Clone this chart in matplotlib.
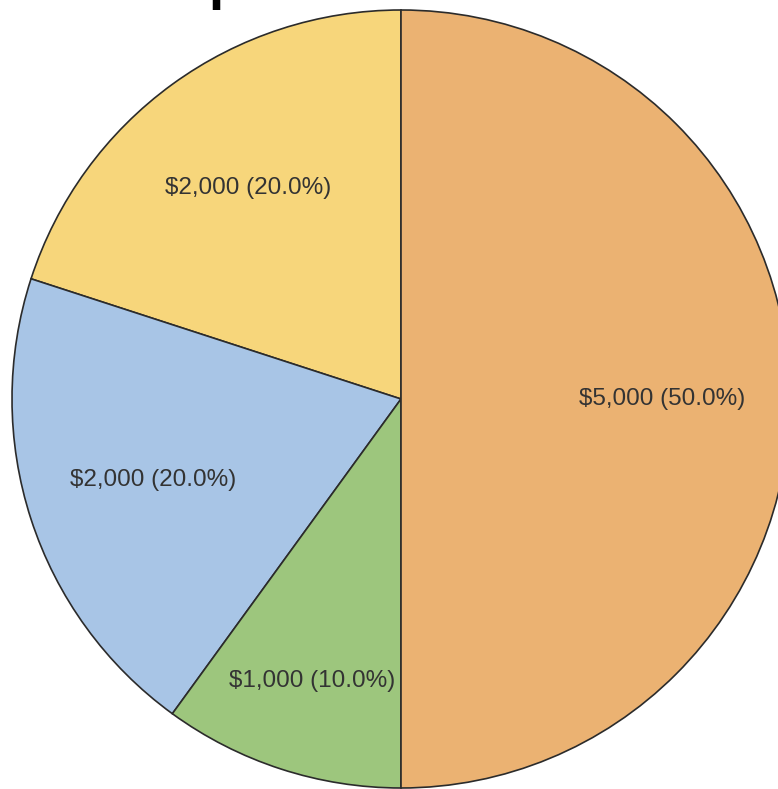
import matplotlib
matplotlib.use("Agg")
import matplotlib.pyplot as plt
import numpy as np

# data (counter-clockwise from the top)
values = [2000, 2000, 1000, 5000]
colors = ["#F7D67B", "#A8C5E6", "#9DC67D", "#EBB272"]
title = "Expense Breakdown"

plt.rcParams["font.family"] = ["Liberation Sans", "DejaVu Sans"]

W, H = 778, 789
fig = plt.figure(figsize=(W / 100, H / 100), dpi=100)

# pie radius 389 px, centre at (401, 399) from the top-left corner
r, cx, cy = 389, 401, 399
ax = fig.add_axes([(cx - r) / W, (H - cy - r) / H, 2 * r / W, 2 * r / H])

total = sum(values)


def fmt(pct):
    v = pct * total / 100
    return f"${v:,.0f} ({pct:.1f}%)"


wedges, texts, autotexts = ax.pie(
    values, colors=colors, startangle=90, counterclock=True,
    autopct=fmt, pctdistance=0.67,
    wedgeprops=dict(edgecolor="#2b2b2b", linewidth=1.2),
    textprops=dict(fontsize=17.5, color="#333333"),
)

# the small slice label sits further out
ang = np.deg2rad(252.5)
autotexts[2].set_position((0.76 * np.cos(ang), 0.76 * np.sin(ang)))

ax.set_xlim(-1, 1)
ax.set_ylim(-1, 1)
ax.set_aspect("auto")
ax.axis("off")

# title sits above the canvas, only its descender shows
fig.text(0.5 + 23 / W, 1.0 + 2 / H, title, ha="center", va="baseline",
         fontsize=40, fontweight="bold", color="black")

fig.savefig("out.png", dpi=100)
